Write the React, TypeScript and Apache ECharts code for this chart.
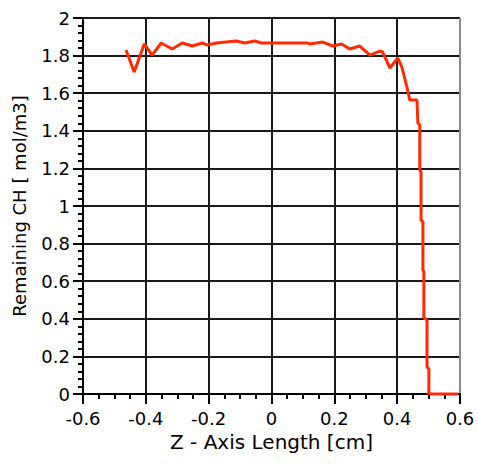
import React, { useEffect, useRef } from "react";
import * as echarts from "echarts";

const zValues = [
  -0.463, -0.437, -0.405, -0.38, -0.351, -0.316, -0.284, -0.252, -0.22, -0.204,
  -0.176, -0.112, -0.086, -0.054, -0.032, 0.115, 0.121, 0.163, 0.195, 0.223,
  0.249, 0.281, 0.313, 0.345, 0.354, 0.377, 0.402, 0.415, 0.431, 0.44, 0.463,
  0.466, 0.472, 0.472, 0.476, 0.476, 0.482, 0.482, 0.485, 0.485, 0.495, 0.495,
  0.501, 0.501, 0.594,
];
const chValues = [
  1.83, 1.713, 1.862, 1.803, 1.867, 1.835, 1.867, 1.851, 1.867, 1.856,
  1.867, 1.878, 1.867, 1.878, 1.867, 1.867, 1.862, 1.872, 1.851, 1.862,
  1.835, 1.851, 1.803, 1.824, 1.819, 1.734, 1.787, 1.739, 1.633, 1.564, 1.564,
  1.441, 1.431, 1.191, 1.18, 0.926, 0.915, 0.66, 0.649, 0.404, 0.394, 0.144,
  0.133, 0, 0,
];

const FONT = "DejaVu Sans";

export default function App() {
  const ref = useRef<HTMLDivElement>(null);
  useEffect(() => {
    document.body.style.margin = "0";
    if (!ref.current) return;
    const chart = echarts.init(ref.current, null, { renderer: "svg" });
    const data = zValues.map((z, i) => [z, chValues[i]]);
    chart.setOption({
      animation: false,
      backgroundColor: "#fff",
      grid: { left: 83, right: 18, top: 18, bottom: 72 },
      xAxis: {
        type: "value",
        min: -0.6,
        max: 0.6,
        interval: 0.2,
        name: "Z - Axis Length [cm]",
        nameLocation: "middle",
        nameGap: 36,
        nameTextStyle: { fontFamily: FONT, fontSize: 20, color: "#000" },
        axisLine: { show: true, onZero: false, lineStyle: { color: "#000", width: 2 } },
        axisTick: { show: true, length: 10, lineStyle: { color: "#000", width: 2 } },
        minorTick: { show: true, splitNumber: 4, length: 5, lineStyle: { color: "#000", width: 2 } },
        axisLabel: { fontFamily: FONT, fontSize: 18, color: "#000", margin: 15 },
        splitLine: {
          show: true,
          lineStyle: {
            color: ["#1a1a1a", "#1a1a1a", "#1a1a1a", "#1a1a1a", "#1a1a1a", "#1a1a1a", "#8a8a8a"],
            width: 2,
          },
        },
      },
      yAxis: {
        type: "value",
        min: 0,
        max: 2,
        interval: 0.2,
        name: "Remaining CH [ mol/m3]",
        nameLocation: "middle",
        nameGap: 55,
        nameTextStyle: { fontFamily: FONT, fontSize: 18, color: "#000" },
        axisLine: { show: true, onZero: false, lineStyle: { color: "#000", width: 2 } },
        axisTick: { show: true, length: 10, lineStyle: { color: "#000", width: 2 } },
        minorTick: { show: true, splitNumber: 5, length: 5, lineStyle: { color: "#000", width: 2 } },
        axisLabel: { fontFamily: FONT, fontSize: 18, color: "#000", margin: 13 },
        splitLine: { show: true, lineStyle: { color: "#1a1a1a", width: 2 } },
      },
      series: [
        {
          type: "line",
          data,
          symbol: "none",
          lineStyle: { color: "#ff2a00", width: 3 },
          clip: false,
        },
      ],
    });
    return () => chart.dispose();
  }, []);
  return <div ref={ref} style={{ width: 478, height: 466 }} />;
}
